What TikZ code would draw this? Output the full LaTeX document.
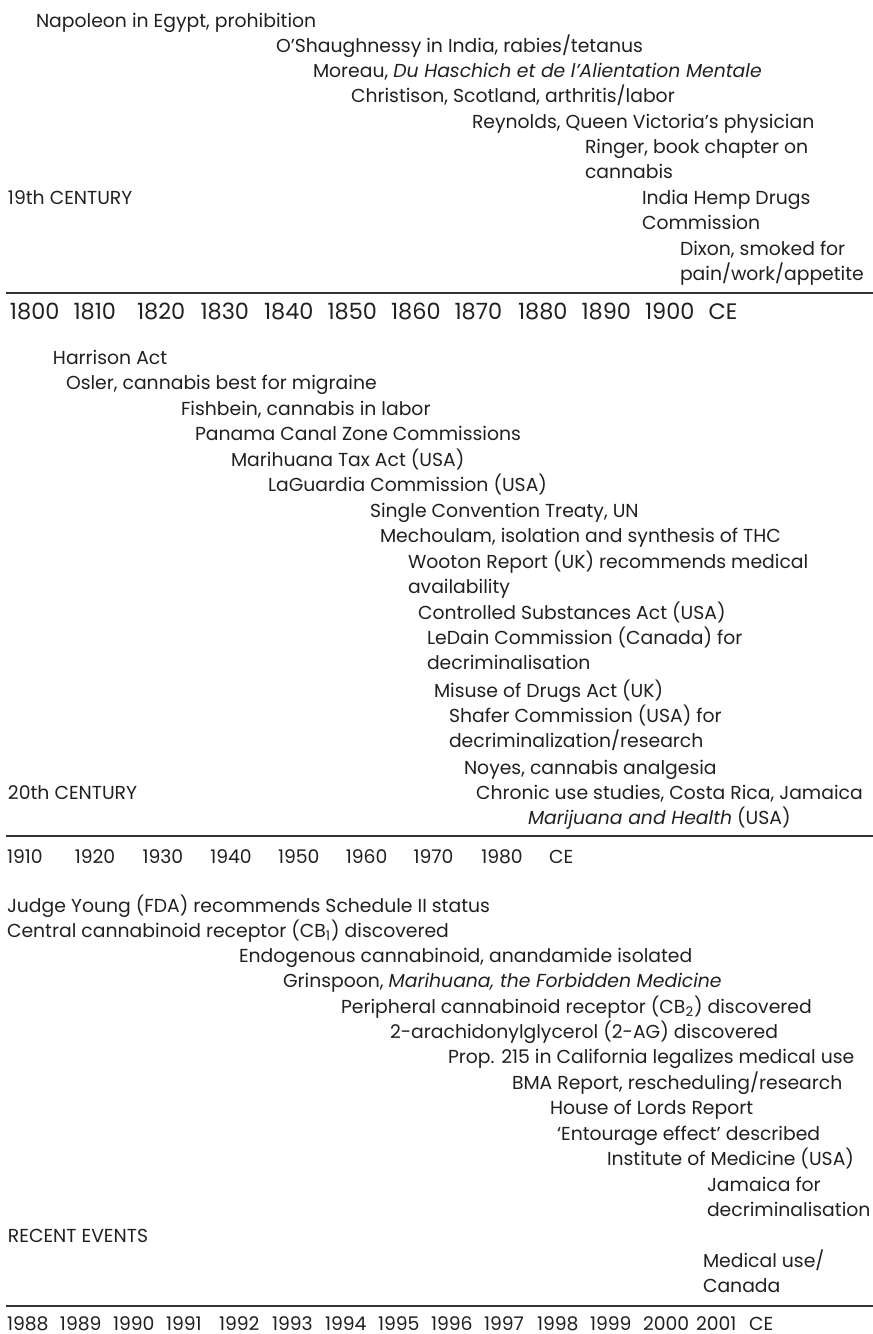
\documentclass[tikz,border=0pt]{standalone}
\usepackage{fontspec}
\setmainfont{Poppins}[Numbers=Monospaced]
\usepackage{tikz}
\usetikzlibrary{positioning}

\begin{document}
\begin{tikzpicture}[
  x=0.5pt, y=-0.5pt,
  evt/.style={anchor=base west, inner sep=0pt, outer sep=0pt,
    font=\fontsize{9.4}{11}\selectfont,
    text={rgb,255:red,35;green,31;blue,32}},
  era/.style={evt},
  yr/.style={evt},
  bigyr/.style={evt, font=\fontsize{11.2}{13}\selectfont},
  nxt/.style={below=12.7pt of #1.base west, anchor=base west},
  hrule/.style={line width=0.65pt,
    draw={rgb,255:red,50;green,50;blue,50}},
]
  \useasboundingbox (0,0) rectangle (873,1334);

  %% -- 19th century -----------------------------------------------
  \node[evt] (napoleon) at (36,27)  {Napoleon in Egypt, prohibition};
  \node[evt] (oshaugh)  at (276,52) {O’Shaughnessy in India, rabies/tetanus};
  \node[evt] (moreau)   at (313,77) {Moreau, \textit{Du Haschich et de l’Alientation Mentale}};
  \node[evt] (christ)   at (351,102) {Christison, Scotland, arthritis/labor};
  \node[evt] (reynolds) at (472,128) {Reynolds, Queen Victoria’s physician};
  \node[evt] (ringer)   at (585,153) {Ringer, book chapter on};
  \node[evt, nxt=ringer] (ringerb) {cannabis};
  \node[era] (c19)      at (8,204)   {19th CENTURY};
  \node[evt] (india)    at (642,204) {India Hemp Drugs};
  \node[evt, nxt=india] (indiab) {Commission};
  \node[evt] (dixon)    at (680,255) {Dixon, smoked for};
  \node[evt, nxt=dixon] (dixonb) {pain/work/appetite};

  \coordinate (r1l) at (6,293);
  \coordinate (r1r) at (873,293);
  \draw[hrule] (r1l) -- (r1r);
  \foreach \yv [count=\i from 0] in {1800,1810,...,1900,CE}
    \node[bigyr] (c19y\i) at ({10+63.5*\i},319) {\yv};

  %% -- 20th century -----------------------------------------------
  \node[evt] (harrison) at (53,364)  {Harrison Act};
  \node[evt] (osler)    at (66,389)  {Osler, cannabis best for migraine};
  \node[evt] (fishbein) at (181,415) {Fishbein, cannabis in labor};
  \node[evt] (panama)   at (195,440) {Panama Canal Zone Commissions};
  \node[evt] (taxact)   at (231,466) {Marihuana Tax Act (USA)};
  \node[evt] (laguard)  at (268,491) {LaGuardia Commission (USA)};
  \node[evt] (single)   at (370,517) {Single Convention Treaty, UN};
  \node[evt] (mechoul)  at (380,542) {Mechoulam, isolation and synthesis of THC};
  \node[evt] (wooton)   at (408,568) {Wooton Report (UK) recommends medical};
  \node[evt, nxt=wooton] (wootonb) {availability};
  \node[evt] (csa)      at (418,619) {Controlled Substances Act (USA)};
  \node[evt] (ledain)   at (427,644) {LeDain Commission (Canada) for};
  \node[evt, nxt=ledain] (ledainb) {decriminalisation};
  \node[evt] (misuse)   at (434,697) {Misuse of Drugs Act (UK)};
  \node[evt] (shafer)   at (449,722) {Shafer Commission (USA) for};
  \node[evt, nxt=shafer] (shaferb) {decriminalization/research};
  \node[evt] (noyes)    at (464,774) {Noyes, cannabis analgesia};
  \node[era] (c20)      at (8,799)   {20th CENTURY};
  \node[evt] (chronic)  at (476,799) {Chronic use studies, Costa Rica, Jamaica};
  \node[evt, nxt=chronic, xshift=26pt] (mjhealth) {\textit{Marijuana and Health} (USA)};

  \coordinate (r2l) at (6,836);
  \coordinate (r2r) at (873,836);
  \draw[hrule] (r2l) -- (r2r);
  \foreach \yv [count=\i from 0] in {1910,1920,...,1980,CE}
    \node[yr] (c20y\i) at ({7+67.75*\i},863) {\yv};

  %% -- recent events ----------------------------------------------
  \node[evt] (young)    at (7,912)    {Judge Young (FDA) recommends Schedule II status};
  \node[evt, nxt=young] (cbone) {Central cannabinoid receptor (CB\textsubscript{1}) discovered};
  \node[evt] (anandam)  at (239,962)  {Endogenous cannabinoid, anandamide isolated};
  \node[evt] (grinsp)   at (283,987)  {Grinspoon, \textit{Marihuana, the Forbidden Medicine}};
  \node[evt] (cbtwo)    at (341,1013) {Peripheral cannabinoid receptor (CB\textsubscript{2}) discovered};
  \node[evt] (twoag)    at (390,1038) {2-arachidonylglycerol (2-AG) discovered};
  \node[evt] (prop)     at (448,1063) {Prop. 215 in California legalizes medical use};
  \node[evt] (bma)      at (512,1089) {BMA Report, rescheduling/research};
  \node[evt] (lords)    at (550,1114) {House of Lords Report};
  \node[evt] (entour)   at (557,1140) {‘Entourage effect’ described};
  \node[evt] (iom)      at (607,1165) {Institute of Medicine (USA)};
  \node[evt] (jamaica)  at (707,1191) {Jamaica for};
  \node[evt, nxt=jamaica] (jamaicab) {decriminalisation};
  \node[era] (recent)   at (8,1242)   {RECENT EVENTS};
  \node[evt] (canada)   at (703,1267) {Medical use/};
  \node[evt, nxt=canada] (canadab) {Canada};

  \coordinate (r3l) at (6,1306);
  \coordinate (r3r) at (873,1306);
  \draw[hrule] (r3l) -- (r3r);
  \foreach \yv [count=\i from 0] in {1988,1989,...,2001,CE}
    \node[yr] (recy\i) at ({7+53*\i},1330) {\yv};

\end{tikzpicture}
\end{document}
